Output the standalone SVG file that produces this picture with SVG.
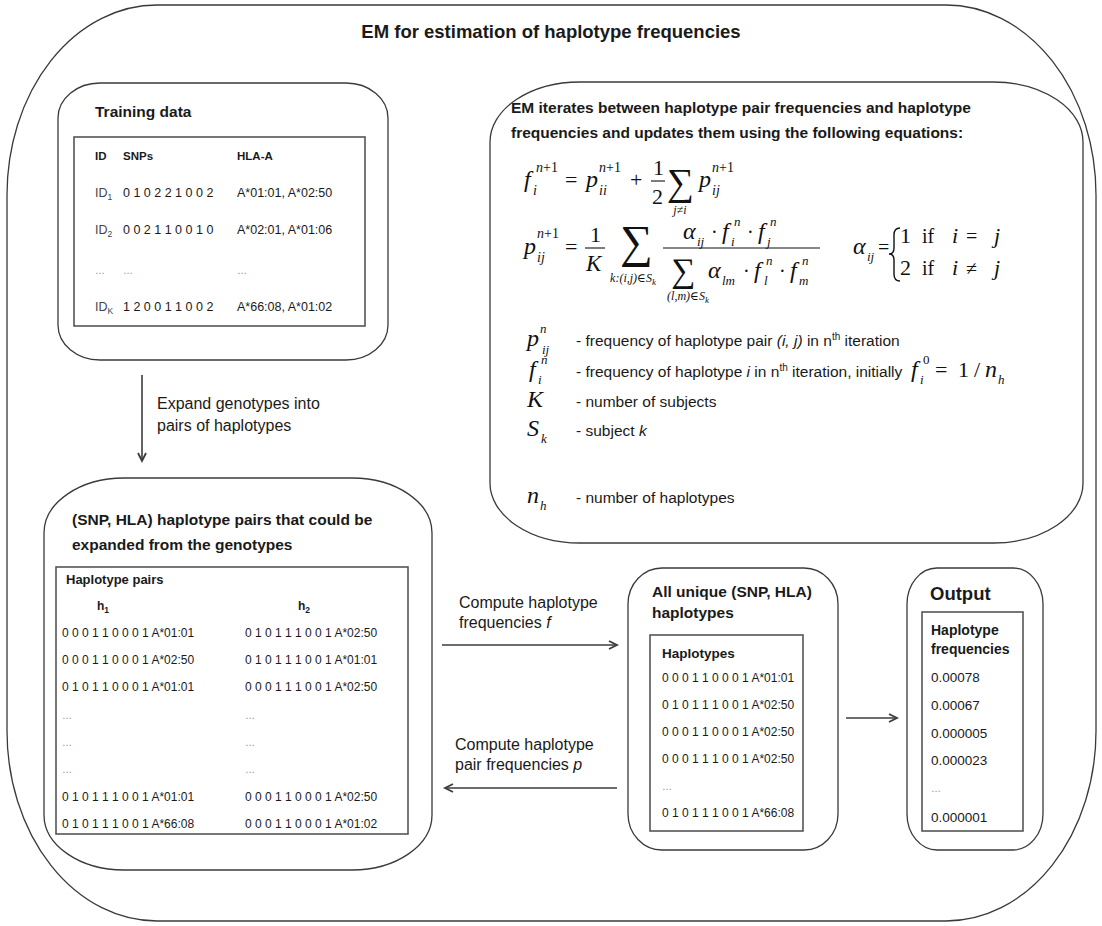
<svg xmlns="http://www.w3.org/2000/svg" width="1102" height="926" viewBox="0 0 1102 926">
  <defs>
    <style>
      .t { font-family: "Liberation Sans", Arial, sans-serif; fill: #1a1a1a; }
      .b { font-weight: bold; }
      .m { font-family: "Liberation Serif", "DejaVu Serif", serif; fill: #111; }
      .i { font-style: italic; }
      .dots { fill: #8a8a8a; font-size: 10px; }
      .box { fill: #fff; stroke: #3a3a3a; stroke-width: 1.3; }
      .tbl { fill: #fff; stroke: #555; stroke-width: 1.6; }
      .link { fill: none; stroke: #3c3c3c; stroke-width: 1.6; }
      .bar { stroke: #111; stroke-width: 1.1; }
    </style>
    <marker id="head" markerUnits="userSpaceOnUse" markerWidth="12" markerHeight="12" refX="9" refY="5" orient="auto">
      <path d="M1,1 L9,5 L1,9" fill="none" stroke="#3c3c3c" stroke-width="1.8"/>
    </marker>
  </defs>

  <rect width="1102" height="926" fill="#fff"/>

  <!-- outer frame and title -->
  <g id="frame">
    <rect class="box" x="7" y="5" width="1089" height="916" rx="150" ry="190"/>
    <text class="t b" x="551" y="38" text-anchor="middle" font-size="18.5">EM for estimation of haplotype frequencies</text>
  </g>

  <!-- training data -->
  <g id="training-data">
    <rect class="box" x="58" y="83" width="330" height="277" rx="42" ry="35"/>
    <text class="t b" x="95" y="117" font-size="15.5">Training data</text>
    <rect class="tbl" x="74" y="137" width="291" height="189"/>
    <g class="t b" font-size="11.5">
      <text x="95" y="160">ID</text>
      <text x="123" y="160">SNPs</text>
      <text x="237" y="160">HLA-A</text>
    </g>
    <g class="t" font-size="12.5">
      <text x="95" y="197" fill="#444">ID<tspan font-size="8.5" dy="3">1</tspan></text>
      <text x="123" y="197">0 1 0 2 2 1 0 0 2</text>
      <text x="237" y="197">A*01:01, A*02:50</text>
      <text x="95" y="234" fill="#444">ID<tspan font-size="8.5" dy="3">2</tspan></text>
      <text x="123" y="234">0 0 2 1 1 0 0 1 0</text>
      <text x="237" y="234">A*02:01, A*01:06</text>
      <text class="dots" x="95" y="274">…</text>
      <text class="dots" x="123" y="274">…</text>
      <text class="dots" x="237" y="274">…</text>
      <text x="95" y="311" fill="#444">ID<tspan font-size="8.5" dy="3">K</tspan></text>
      <text x="123" y="311">1 2 0 0 1 1 0 0 2</text>
      <text x="237" y="311">A*66:08, A*01:02</text>
    </g>
  </g>

  <!-- EM update equations -->
  <g id="em-equations">
    <rect class="box" x="490" y="82" width="593" height="461" rx="90" ry="60"/>
    <text class="t b" x="511" y="113" font-size="15.5">EM iterates between haplotype pair frequencies and haplotype</text>
    <text class="t b" x="511" y="138" font-size="15.5">frequencies and updates them using the following equations:</text>

    <!-- f_i^{n+1} = p_ii^{n+1} + 1/2 sum p_ij^{n+1} -->
    <g class="m">
      <text class="i" x="524" y="187" font-size="24">f</text>
      <text x="536" y="172" font-size="14"><tspan class="i">n</tspan>+1</text>
      <text class="i" x="533" y="195" font-size="14">i</text>
      <text x="565" y="187" font-size="22">=</text>
      <text class="i" x="586" y="187" font-size="24">p</text>
      <text x="599" y="172" font-size="14"><tspan class="i">n</tspan>+1</text>
      <text class="i" x="599" y="195" font-size="14">ii</text>
      <text x="630" y="187" font-size="22">+</text>
      <text x="653" y="175" font-size="22">1</text>
      <line class="bar" x1="651" y1="181" x2="665" y2="181"/>
      <text x="652" y="204" font-size="22">2</text>
      <text x="667" y="195" font-size="38">∑</text>
      <text class="i" x="680" y="214" font-size="12" text-anchor="middle">j≠i</text>
      <text class="i" x="699" y="187" font-size="24">p</text>
      <text x="712" y="172" font-size="14"><tspan class="i">n</tspan>+1</text>
      <text class="i" x="712" y="195" font-size="14">ij</text>
    </g>

    <!-- p_ij^{n+1} = 1/K sum (alpha f f)/(sum alpha f f) -->
    <g class="m">
      <text class="i" x="524" y="254" font-size="24">p</text>
      <text x="537" y="238" font-size="14"><tspan class="i">n</tspan>+1</text>
      <text class="i" x="537" y="262" font-size="14">ij</text>
      <text x="565" y="254" font-size="22">=</text>
      <text x="590" y="242" font-size="22">1</text>
      <line class="bar" x1="585" y1="248" x2="605" y2="248"/>
      <text class="i" x="586" y="271" font-size="23">K</text>
      <text x="620" y="257" font-size="46">∑</text>
      <text class="i" x="633" y="282" font-size="12" text-anchor="middle">k:(i,j)∈S<tspan font-size="9" dy="3">k</tspan></text>

      <text class="i" x="683" y="239" font-size="24">α</text>
      <text class="i" x="697" y="246" font-size="13">ij</text>
      <text x="711" y="239" font-size="20">·</text>
      <text class="i" x="722" y="239" font-size="24">f</text>
      <text class="i" x="734" y="226" font-size="13">n</text>
      <text class="i" x="731" y="246" font-size="13">i</text>
      <text x="747" y="239" font-size="20">·</text>
      <text class="i" x="758" y="239" font-size="24">f</text>
      <text class="i" x="770" y="226" font-size="13">n</text>
      <text class="i" x="767" y="246" font-size="13">j</text>
      <line class="bar" x1="663" y1="248" x2="820" y2="248"/>
      <text x="671" y="282" font-size="34">∑</text>
      <text class="i" x="688" y="300" font-size="12" text-anchor="middle">(l,m)∈S<tspan font-size="9" dy="3">k</tspan></text>
      <text class="i" x="708" y="278" font-size="24">α</text>
      <text class="i" x="722" y="285" font-size="13">lm</text>
      <text x="743" y="278" font-size="20">·</text>
      <text class="i" x="754" y="278" font-size="24">f</text>
      <text class="i" x="766" y="265" font-size="13">n</text>
      <text class="i" x="764" y="285" font-size="13">l</text>
      <text x="779" y="278" font-size="20">·</text>
      <text class="i" x="790" y="278" font-size="24">f</text>
      <text class="i" x="802" y="265" font-size="13">n</text>
      <text class="i" x="799" y="285" font-size="13">m</text>

      <!-- alpha_ij cases -->
      <text class="i" x="853" y="254" font-size="24">α</text>
      <text class="i" x="867" y="261" font-size="13">ij</text>
      <text x="878" y="254" font-size="20">=</text>
      <path d="M900,228 Q894,228 894,235 L894,248 Q894,254 889,254 Q894,254 894,260 L894,274 Q894,281 900,281" fill="none" stroke="#111" stroke-width="1.4"/>
      <text x="900" y="243" font-size="22">1</text>
      <text x="922" y="243" font-size="20">if</text>
      <text class="i" x="952" y="243" font-size="22">i</text>
      <text x="966" y="243" font-size="20">=</text>
      <text class="i" x="994" y="243" font-size="22">j</text>
      <text x="900" y="275" font-size="22">2</text>
      <text x="922" y="275" font-size="20">if</text>
      <text class="i" x="952" y="275" font-size="22">i</text>
      <text x="966" y="275" font-size="20">≠</text>
      <text class="i" x="994" y="275" font-size="22">j</text>
    </g>

    <!-- symbol legend -->
    <g class="m">
      <text class="i" x="527" y="346" font-size="24">p</text>
      <text class="i" x="540" y="333" font-size="13">n</text>
      <text class="i" x="542" y="354" font-size="13">ij</text>
      <text class="i" x="529" y="377" font-size="24">f</text>
      <text class="i" x="541" y="364" font-size="13">n</text>
      <text class="i" x="538" y="384" font-size="13">i</text>
      <text class="i" x="527" y="407" font-size="24">K</text>
      <text class="i" x="527" y="436" font-size="24">S</text>
      <text class="i" x="541" y="443" font-size="13">k</text>
      <text class="i" x="527" y="503" font-size="24">n</text>
      <text class="i" x="540" y="510" font-size="13">h</text>
      <text class="i" x="911" y="377" font-size="24">f</text>
      <text x="923" y="364" font-size="13">0</text>
      <text class="i" x="920" y="384" font-size="13">i</text>
      <text x="935" y="377" font-size="22">=</text>
      <text x="958" y="377" font-size="22">1</text>
      <text x="974" y="377" font-size="22">/</text>
      <text class="i" x="985" y="377" font-size="24">n</text>
      <text class="i" x="998" y="384" font-size="13">h</text>
    </g>
    <g class="t" font-size="15.5">
      <text x="576" y="346">- frequency of haplotype pair <tspan font-style="italic">(i, j)</tspan> in n<tspan font-size="10" dy="-6">th</tspan><tspan dy="6"> iteration</tspan></text>
      <text x="576" y="377">- frequency of haplotype <tspan font-style="italic">i</tspan> in n<tspan font-size="10" dy="-6">th</tspan><tspan dy="6"> iteration, initially</tspan></text>
      <text x="576" y="407">- number of subjects</text>
      <text x="576" y="436">- subject <tspan font-style="italic">k</tspan></text>
      <text x="576" y="503">- number of haplotypes</text>
    </g>
  </g>

  <!-- expanded haplotype pairs -->
  <g id="haplotype-pairs">
    <rect class="box" x="44" y="478" width="388" height="392" rx="80" ry="55"/>
    <text class="t b" x="72" y="525" font-size="15.5">(SNP, HLA) haplotype pairs that could be</text>
    <text class="t b" x="72" y="550" font-size="15.5">expanded from the genotypes</text>
    <rect class="tbl" x="56" y="567" width="352" height="267"/>
    <text class="t b" x="66" y="584" font-size="13">Haplotype pairs</text>
    <text class="t b" x="97" y="610" font-size="12">h<tspan font-size="8.5" dy="3">1</tspan></text>
    <text class="t b" x="298" y="610" font-size="12">h<tspan font-size="8.5" dy="3">2</tspan></text>
    <g class="t" font-size="12">
      <text x="62" y="637">0 0 0 1 1 0 0 0 1 A*01:01</text>
      <text x="245" y="637">0 1 0 1 1 1 0 0 1 A*02:50</text>
      <text x="62" y="664">0 0 0 1 1 0 0 0 1 A*02:50</text>
      <text x="245" y="664">0 1 0 1 1 1 0 0 1 A*01:01</text>
      <text x="62" y="691">0 1 0 1 1 0 0 0 1 A*01:01</text>
      <text x="245" y="691">0 0 0 1 1 1 0 0 1 A*02:50</text>
      <text class="dots" x="62" y="719">…</text>
      <text class="dots" x="245" y="719">…</text>
      <text class="dots" x="62" y="746">…</text>
      <text class="dots" x="245" y="746">…</text>
      <text class="dots" x="62" y="773">…</text>
      <text class="dots" x="245" y="773">…</text>
      <text x="62" y="801">0 1 0 1 1 1 0 0 1 A*01:01</text>
      <text x="245" y="801">0 0 0 1 1 0 0 0 1 A*02:50</text>
      <text x="62" y="828">0 1 0 1 1 1 0 0 1 A*66:08</text>
      <text x="245" y="828">0 0 0 1 1 0 0 0 1 A*01:02</text>
    </g>
  </g>

  <!-- unique haplotypes -->
  <g id="unique-haplotypes">
    <rect class="box" x="628" y="568" width="210" height="282" rx="34" ry="36"/>
    <text class="t b" x="652" y="597" font-size="15.5">All unique (SNP, HLA)</text>
    <text class="t b" x="652" y="618" font-size="15.5">haplotypes</text>
    <rect class="tbl" x="650" y="635" width="153" height="196"/>
    <text class="t b" x="662" y="658" font-size="13.5">Haplotypes</text>
    <g class="t" font-size="12">
      <text x="662" y="682">0 0 0 1 1 0 0 0 1 A*01:01</text>
      <text x="662" y="709">0 1 0 1 1 1 0 0 1 A*02:50</text>
      <text x="662" y="736">0 0 0 1 1 0 0 0 1 A*02:50</text>
      <text x="662" y="763">0 0 0 1 1 1 0 0 1 A*02:50</text>
      <text class="dots" x="662" y="790">…</text>
      <text x="662" y="817">0 1 0 1 1 1 0 0 1 A*66:08</text>
    </g>
  </g>

  <!-- output frequencies -->
  <g id="output">
    <rect class="box" x="907" y="568" width="136" height="282" rx="30" ry="36"/>
    <text class="t b" x="930" y="600" font-size="18.5">Output</text>
    <rect class="tbl" x="922" y="612" width="101" height="219"/>
    <text class="t b" x="931" y="635" font-size="14">Haplotype</text>
    <text class="t b" x="931" y="654" font-size="14">frequencies</text>
    <g class="t" font-size="13.5">
      <text x="931" y="682">0.00078</text>
      <text x="931" y="710">0.00067</text>
      <text x="931" y="738">0.000005</text>
      <text x="931" y="765">0.000023</text>
      <text class="dots" x="931" y="792">…</text>
      <text x="931" y="822">0.000001</text>
    </g>
  </g>

  <!-- connectors -->
  <g id="connectors">
    <line class="link" x1="142" y1="375" x2="142" y2="461" marker-end="url(#head)"/>
    <text class="t" x="157" y="409" font-size="16">Expand genotypes into</text>
    <text class="t" x="157" y="431" font-size="16">pairs of haplotypes</text>

    <line class="link" x1="442" y1="645" x2="617" y2="645" marker-end="url(#head)"/>
    <text class="t" x="459" y="608" font-size="16">Compute haplotype</text>
    <text class="t" x="459" y="628" font-size="16">frequencies <tspan font-style="italic">f</tspan></text>

    <line class="link" x1="617" y1="788" x2="445" y2="788" marker-end="url(#head)"/>
    <text class="t" x="455" y="750" font-size="16">Compute haplotype</text>
    <text class="t" x="455" y="770" font-size="16">pair frequencies <tspan font-style="italic">p</tspan></text>

    <line class="link" x1="846" y1="718" x2="897" y2="718" marker-end="url(#head)"/>
  </g>
</svg>
